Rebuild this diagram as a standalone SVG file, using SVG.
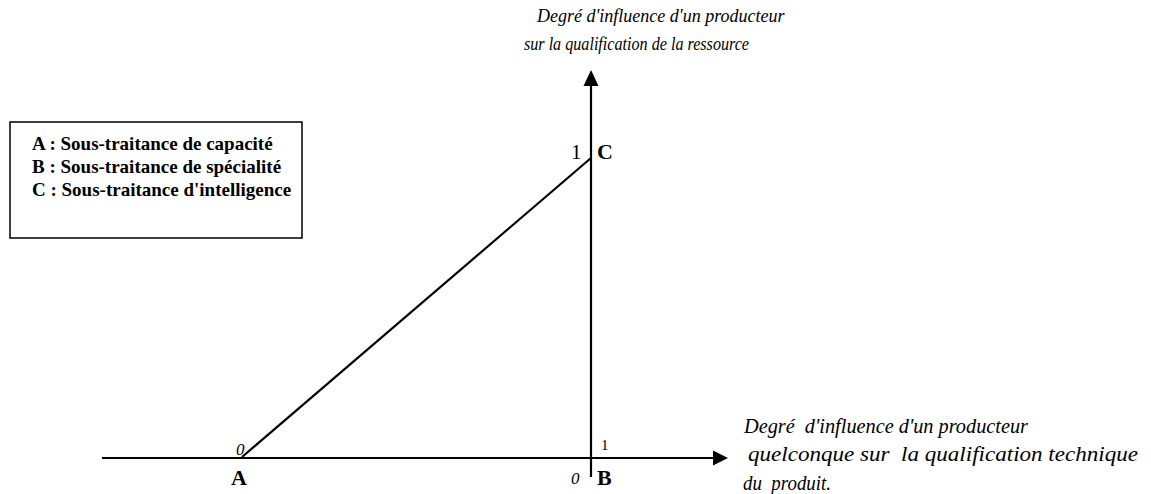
<svg xmlns="http://www.w3.org/2000/svg" width="1151" height="494" viewBox="0 0 1151 494">
<style>
.ax{stroke:#000;stroke-width:2.2;fill:none}
.lbl{font-family:"Liberation Serif",serif;font-style:italic;font-size:18px;fill:#000}
.lbl2{font-family:"Liberation Serif",serif;font-style:italic;font-size:20px;fill:#000}
.leg{font-family:"Liberation Serif",serif;font-weight:bold;font-size:19px;fill:#000}
.pt{font-family:"Liberation Serif",serif;font-weight:bold;font-size:22px;fill:#000}
.num{font-family:"Liberation Serif",serif;font-size:21px;fill:#000}
.numi{font-family:"Liberation Serif",serif;font-style:italic;font-size:17px;fill:#000}
</style>
<rect width="1151" height="494" fill="#fff"/>
<g id="connectors">
<line class="ax" x1="102" y1="458" x2="714" y2="458"/>
<path d="M713,450.5 L728,458 L713,465.5 Z" fill="#000"/>
<line class="ax" x1="591" y1="477" x2="591" y2="85"/>
<path d="M583.5,86 L591,70 L598.5,86 Z" fill="#000"/>
<line class="ax" x1="242" y1="457" x2="591" y2="158"/>
</g>
<g id="legend">
<rect x="10" y="122" width="292" height="116" fill="none" stroke="#000" stroke-width="1.5"/>
<text class="leg" x="32" y="150">A : Sous-traitance de capacité</text>
<text class="leg" x="32" y="173">B : Sous-traitance de spécialité</text>
<text class="leg" x="32" y="196">C : Sous-traitance d'intelligence</text>
</g>
<g id="y-axis-label">
<text class="lbl" x="537" y="22">Degré d'influence d'un producteur</text>
<text class="lbl" x="524" y="50" textLength="225" lengthAdjust="spacingAndGlyphs">sur la qualification de la ressource</text>
</g>
<g id="x-axis-label">
<text class="lbl2" x="744" y="433" textLength="284" lengthAdjust="spacingAndGlyphs" xml:space="preserve">Degré  d'influence d'un producteur</text>
<text class="lbl2" x="748" y="461" textLength="390" lengthAdjust="spacingAndGlyphs" xml:space="preserve">quelconque sur  la qualification technique</text>
<text class="lbl2" x="743" y="490" textLength="88" lengthAdjust="spacingAndGlyphs" xml:space="preserve">du  produit.</text>
</g>
<g id="point-A">
<text class="numi" x="236" y="455">0</text>
<text class="pt" x="231" y="485">A</text>
</g>
<g id="point-B">
<text class="numi" x="571" y="484">0</text>
<text class="pt" x="597" y="485">B</text>
<text class="num" x="601" y="450" style="font-size:15px">1</text>
</g>
<g id="point-C">
<text class="num" x="571" y="159">1</text>
<text class="pt" x="597" y="159">C</text>
</g>
</svg>
